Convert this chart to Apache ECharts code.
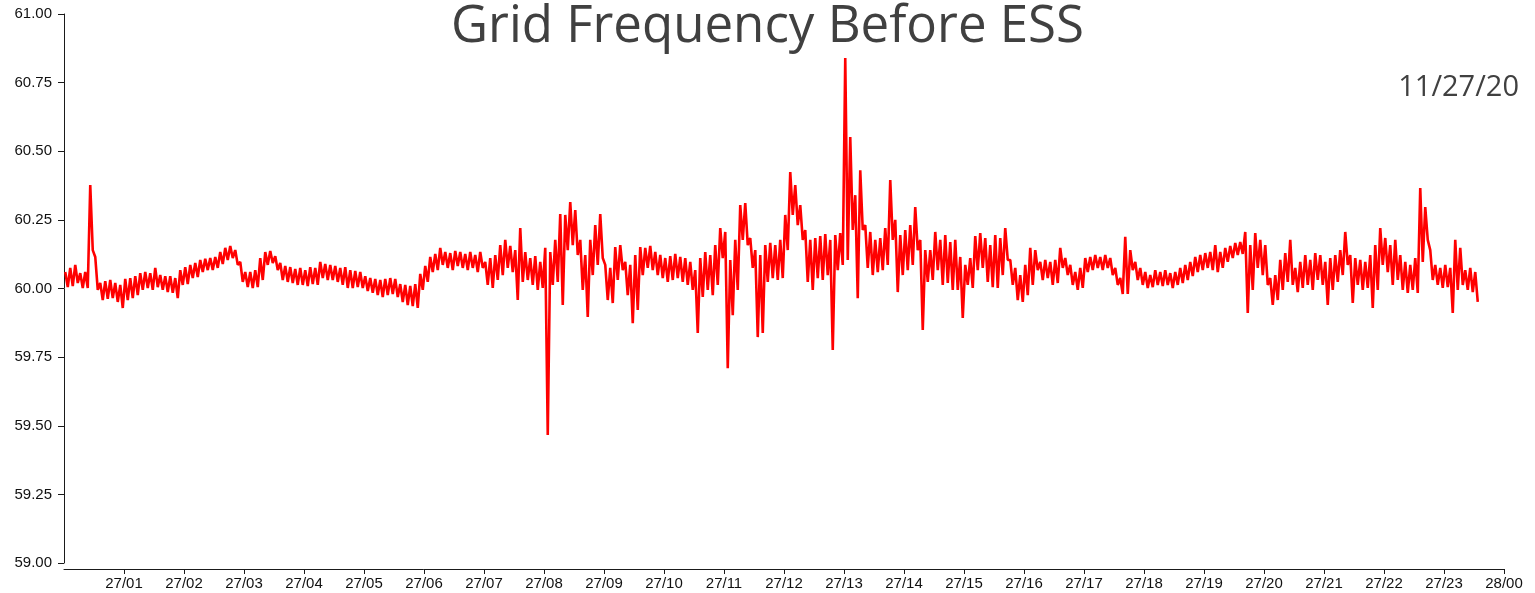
<!doctype html>
<html>
<head>
<meta charset="utf-8">
<title>Grid Frequency Before ESS</title>
<script src="https://cdn.jsdelivr.net/npm/echarts/dist/echarts.min.js"></script>
<style>
html,body{margin:0;padding:0;background:#fff;}
</style>
</head>
<body>
<div id="chart" style="width:1535px;height:593px;"></div>
<script type="text/javascript">
// frequency in 5 minute buckets, starting 27/00
// hiMHz / loMHz = top and bottom of the trace in each bucket, mHz away from 60 Hz
var bucketMin = 5;
var nominalHz = 60;
var hiMHz = [
  60,75,86,56,60,377,115,20,27,31,
  20,13,35,38,45,56,60,56,75,49,
  45,45,38,67,78,86,93,104,108,111,
  115,133,148,155,140,97,60,60,67,111,
  133,137,118,93,82,78,71,75,67,78,
  75,97,89,86,82,75,78,67,64,60,
  45,38,35,31,35,38,35,16,13,9,
  16,53,82,115,126,148,133,129,137,133,
  126,133,122,133,97,111,122,158,177,155,
  140,220,133,111,118,97,148,133,177,271,
  268,315,286,177,122,177,231,271,86,75,
  151,158,97,86,122,151,148,155,133,122,
  111,118,126,115,111,97,67,111,133,122,
  158,220,206,104,177,304,311,184,140,122,
  158,166,158,177,268,424,377,304,213,177,
  184,191,198,177,195,202,840,552,340,431,
  231,206,177,184,220,395,250,195,213,231,
  297,177,140,140,206,177,195,169,177,115,
  86,111,191,202,184,158,195,184,220,104,
  75,49,86,148,140,97,104,97,104,148,
  111,86,60,75,111,115,122,115,122,111,
  75,38,188,140,97,75,60,49,67,60,
  67,56,60,75,86,97,115,122,129,133,
  158,133,148,155,166,169,206,158,202,177,
  158,38,49,104,129,177,75,97,122,104,
  129,122,97,111,122,140,206,122,111,104,
  97,122,158,220,184,158,177,122,97,86,
  111,366,297,140,86,75,86,75,177,148,
  67,75,60
];
var loMHz = [
  5,9,20,2,2,140,-5,-42,-38,-35,
  -49,-71,-42,-35,-24,-5,2,-5,5,-5,
  -13,-16,-35,13,16,38,42,60,67,67,
  75,89,104,111,86,24,5,2,5,31,
  86,93,67,31,24,20,13,13,9,16,
  13,38,31,31,24,13,2,2,5,2,
  -9,-16,-24,-31,-24,-20,-31,-49,-60,-64,
  -71,-5,24,60,67,86,75,67,82,75,
  67,75,60,75,13,2,31,49,75,60,
  -42,24,31,13,-5,2,-534,13,24,-60,
  140,158,122,-5,-104,49,86,111,-42,-53,
  31,67,-24,-126,-78,49,75,67,49,38,
  24,31,38,24,13,-5,-162,-31,-5,-24,
  13,111,-290,-97,-5,177,158,75,-177,-162,
  24,38,31,38,140,268,231,177,24,-5,
  38,31,49,-224,67,86,104,213,-35,213,
  75,49,60,67,86,177,-13,49,67,86,
  140,-151,24,31,67,13,20,-5,-5,-107,
  13,2,67,75,24,5,2,49,104,13,
  -42,-49,-24,13,67,31,38,13,20,75,
  49,13,-5,2,60,67,75,67,75,49,
  13,-20,-20,67,31,13,2,5,13,9,
  13,2,13,20,31,45,60,67,75,67,
  60,75,97,111,122,126,-89,-5,75,49,
  13,-60,-42,-5,24,13,-13,2,13,-5,
  31,13,-60,-5,24,49,86,-53,13,-5,
  2,-71,-5,86,60,13,31,-5,-16,-5,
  -16,97,177,31,13,2,5,-89,-5,13,
  -5,-13,-49
];
var hourLabels = ['27/01','27/02','27/03','27/04','27/05','27/06','27/07','27/08',
  '27/09','27/10','27/11','27/12','27/13','27/14','27/15','27/16','27/17','27/18',
  '27/19','27/20','27/21','27/22','27/23','28/00'];
var yTicks = [59.00,59.25,59.50,59.75,60.00,60.25,60.50,60.75,61.00];

var pts = [];
for (var i = 0; i < hiMHz.length; i++) {
  var t0 = i * bucketMin;
  pts.push([t0 + bucketMin * 0.25, nominalHz + hiMHz[i] / 1000]);
  pts.push([t0 + bucketMin * 0.75, nominalHz + loMHz[i] / 1000]);
}
var hourMins = hourLabels.map(function (s, k) { return (k + 1) * 60; });

var axisCol = '#1a1a1a';
var mychart = echarts.init(document.getElementById('chart'));
mychart.setOption({
  animation: false,
  title: [{
    text: 'Grid Frequency Before ESS',
    left: 'center',
    top: -3,
    textStyle: { fontFamily: 'Open Sans', fontWeight: 'normal', fontSize: 51, color: '#404040' }
  }, {
    text: '11/27/20',
    right: 11,
    top: 68,
    textStyle: { fontFamily: 'Open Sans', fontWeight: 'normal', fontSize: 29, color: '#404040' }
  }],
  grid: { left: 64, right: 31, top: 14, bottom: 30 },
  xAxis: {
    type: 'value',
    min: 0,
    max: 1440,
    interval: 60,
    offset: 6,
    splitLine: { show: false },
    axisLine: { lineStyle: { color: axisCol, width: 1 } },
    axisTick: { length: 5, lineStyle: { color: axisCol }, customValues: hourMins },
    axisLabel: {
      customValues: hourMins,
      margin: 7,
      color: '#111',
      fontFamily: 'Liberation Sans',
      fontSize: 15,
      formatter: function (v) { return hourLabels[Math.round(v / 60) - 1] || ''; }
    }
  },
  yAxis: {
    type: 'value',
    min: yTicks[0],
    max: yTicks[yTicks.length - 1],
    interval: 0.25,
    offset: 3,
    splitLine: { show: false },
    axisLine: { show: true, lineStyle: { color: axisCol, width: 1 } },
    axisTick: { show: true, length: 6, lineStyle: { color: axisCol } },
    axisLabel: {
      margin: 9,
      color: '#111',
      fontFamily: 'Liberation Sans',
      fontSize: 15,
      formatter: function (v) { return v.toFixed(2); }
    }
  },
  series: [{
    type: 'line',
    data: pts,
    showSymbol: false,
    symbol: 'none',
    sampling: null,
    lineStyle: { color: '#ff0000', width: 2.6, join: 'bevel' },
    itemStyle: { color: '#ff0000' }
  }]
});
</script>
</body>
</html>
